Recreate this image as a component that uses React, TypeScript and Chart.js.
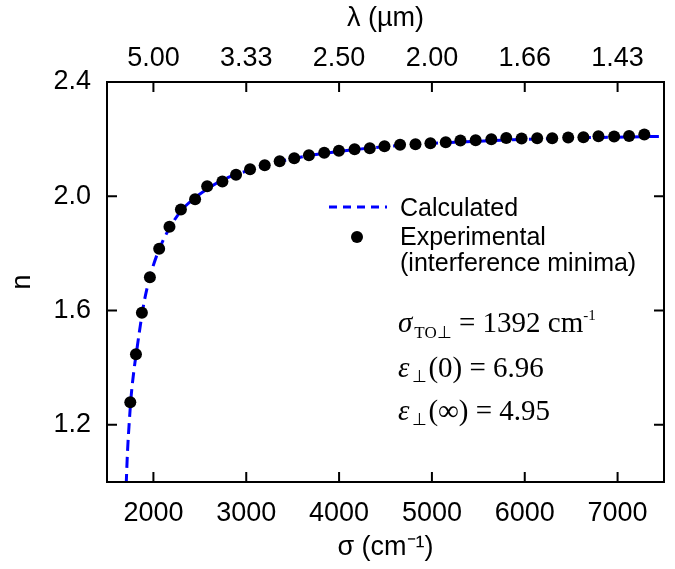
import React, { useEffect, useRef } from "react";
import { Chart, registerables } from "chart.js";

Chart.register(...registerables);

// ---- data ----
const sigmaTicks = [2000, 3000, 4000, 5000, 6000, 7000];
const lambdaLabels = ["5.00", "3.33", "2.50", "2.00", "1.66", "1.43"];
const nTicks = [1.2, 1.6, 2.0, 2.4];

const expSigma = [
  1751, 1812, 1876, 1962, 2062, 2173, 2296, 2449, 2579, 2743, 2890, 3041, 3199,
  3360, 3517, 3675, 3840, 3998, 4167, 4331, 4489, 4657, 4823, 4984, 5149, 5307,
  5471, 5640, 5801, 5966, 6134, 6296, 6468, 6632, 6794, 6963, 7124, 7288,
];
const expN = [
  1.279, 1.447, 1.592, 1.717, 1.816, 1.893, 1.954, 1.99, 2.035, 2.052, 2.075,
  2.095, 2.109, 2.123, 2.133, 2.144, 2.152, 2.159, 2.165, 2.168, 2.175, 2.18,
  2.182, 2.186, 2.189, 2.195, 2.196, 2.2, 2.204, 2.202, 2.203, 2.203, 2.206,
  2.207, 2.21, 2.209, 2.211, 2.216,
];

const calcSigma = [
  1700, 1720, 1740, 1760, 1790, 1820, 1860, 1900, 1960, 2050, 2150, 2300, 2450,
  2600, 2800, 3000, 3250, 3500, 3750, 4000, 4500, 5000, 5500, 6000, 6500, 7000,
  7500,
];
const calcN = [
  0.93, 1.1, 1.21, 1.3, 1.39, 1.46, 1.55, 1.63, 1.715, 1.805, 1.875, 1.95,
  1.995, 2.03, 2.065, 2.088, 2.113, 2.132, 2.146, 2.157, 2.174, 2.185, 2.193,
  2.199, 2.204, 2.207, 2.21,
];

const SANS = '"Liberation Sans", Arial, Helvetica, sans-serif';
const SERIF = '"Liberation Serif", "Times New Roman", Times, serif';
const BLUE = "#0000ff";

type Part = { t: string; font: string; dy?: number; gap?: number };

function drawRich(ctx: CanvasRenderingContext2D, x: number, y: number, parts: Part[]) {
  let cx = x;
  for (const p of parts) {
    ctx.font = p.font;
    ctx.fillText(p.t, cx, y + (p.dy || 0));
    cx += ctx.measureText(p.t).width + (p.gap || 0);
  }
}

const framePlugin = {
  id: "frame",
  afterDatasetsDraw(chart: any) {
    const { ctx, chartArea, scales } = chart;
    const { left, right, top, bottom } = chartArea;
    ctx.save();
    ctx.strokeStyle = "#000";
    ctx.lineWidth = 2;
    ctx.setLineDash([]);
    ctx.strokeRect(left, top, right - left, bottom - top);
    ctx.beginPath();
    sigmaTicks.forEach((v) => {
      const px = scales.x.getPixelForValue(v);
      ctx.moveTo(px, bottom);
      ctx.lineTo(px, bottom - 10);
      ctx.moveTo(px, top);
      ctx.lineTo(px, top + 10);
    });
    nTicks.forEach((v) => {
      const py = scales.y.getPixelForValue(v);
      ctx.moveTo(left, py);
      ctx.lineTo(left + 10, py);
      ctx.moveTo(right, py);
      ctx.lineTo(right - 10, py);
    });
    ctx.stroke();

    // legend
    const lx = left + 222;
    ctx.strokeStyle = BLUE;
    ctx.lineWidth = 3;
    ctx.setLineDash([8, 6]);
    ctx.beginPath();
    ctx.moveTo(lx, top + 125);
    ctx.lineTo(lx + 58, top + 125);
    ctx.stroke();
    ctx.setLineDash([]);
    ctx.fillStyle = "#000";
    ctx.beginPath();
    ctx.arc(lx + 28, top + 155, 6, 0, Math.PI * 2);
    ctx.fill();

    ctx.font = `25px ${SANS}`;
    ctx.textAlign = "left";
    ctx.textBaseline = "alphabetic";
    const tx = left + 293;
    ctx.fillText("Calculated", tx, top + 134);
    ctx.fillText("Experimental", tx, top + 163);
    ctx.fillText("(interference minima)", tx, top + 189);

    // parameters
    const ax = left + 291;
    const big = `29px ${SERIF}`;
    const bigI = `italic 29px ${SERIF}`;
    const small = `17px ${SERIF}`;
    drawRich(ctx, ax, top + 250, [
      { t: "σ", font: bigI, gap: 2 },
      { t: "TO⊥", font: small, dy: 6 },
      { t: " = 1392 cm", font: big },
      { t: "-1", font: `15px ${SERIF}`, dy: -12 },
    ]);
    drawRich(ctx, ax, top + 295, [
      { t: "ε", font: bigI, gap: 3 },
      { t: "⊥", font: small, dy: 5, gap: 1 },
      { t: "(0) = 6.96", font: big },
    ]);
    drawRich(ctx, ax, top + 338, [
      { t: "ε", font: bigI, gap: 3 },
      { t: "⊥", font: small, dy: 5, gap: 1 },
      { t: "(∞) = 4.95", font: big },
    ]);
    ctx.restore();
  },
};

export default function App() {
  const ref = useRef<HTMLCanvasElement>(null);

  useEffect(() => {
    if (!ref.current) return;
    const tickFont = { family: SANS, size: 27 };
    const chart = new Chart(ref.current, {
      type: "scatter",
      data: {
        datasets: [
          {
            label: "Experimental (interference minima)",
            data: expSigma.map((s, i) => ({ x: s, y: expN[i] })),
            showLine: false,
            pointRadius: 6,
            pointHoverRadius: 6,
            backgroundColor: "#000",
            borderWidth: 0,
          },
          {
            label: "Calculated",
            data: calcSigma.map((s, i) => ({ x: s, y: calcN[i] })),
            showLine: true,
            pointRadius: 0,
            borderColor: BLUE,
            borderWidth: 3,
            borderDash: [11, 6],
            cubicInterpolationMode: "monotone",
            fill: false,
          } as any,
        ],
      },
      options: {
        responsive: false,
        animation: false,
        layout: { padding: { left: 0, right: 11, top: 0, bottom: 0 } },
        plugins: { legend: { display: false }, tooltip: { enabled: false } },
        scales: {
          x: {
            type: "linear",
            position: "bottom",
            min: 1500,
            max: 7500,
            afterBuildTicks: (s: any) => {
              s.ticks = sigmaTicks.map((v) => ({ value: v }));
            },
            afterFit: (s: any) => {
              s.height = 87;
            },
            grid: { display: false, drawTicks: false },
            border: { display: false },
            ticks: {
              font: tickFont,
              color: "#000",
              padding: 15,
              maxRotation: 0,
              autoSkip: false,
              callback: (v: any) => String(v),
            },
            title: {
              display: true,
              text: "σ (cm⁻¹)",
              font: tickFont,
              color: "#000",
              padding: { top: 0, bottom: 5 },
            },
          },
          x2: {
            type: "linear",
            position: "top",
            min: 1500,
            max: 7500,
            afterBuildTicks: (s: any) => {
              s.ticks = sigmaTicks.map((v) => ({ value: v }));
            },
            afterFit: (s: any) => {
              s.height = 82;
            },
            grid: { display: false, drawTicks: false },
            border: { display: false },
            ticks: {
              font: tickFont,
              color: "#000",
              padding: 7,
              maxRotation: 0,
              autoSkip: false,
              callback: (v: any) => lambdaLabels[sigmaTicks.indexOf(Number(v))],
            },
            title: {
              display: true,
              text: "λ (µm)",
              font: tickFont,
              color: "#000",
              padding: { top: 2, bottom: 0 },
            },
          },
          y: {
            type: "linear",
            position: "left",
            min: 1.0,
            max: 2.4,
            afterBuildTicks: (s: any) => {
              s.ticks = nTicks.map((v) => ({ value: v }));
            },
            afterFit: (s: any) => {
              s.width = 107;
            },
            grid: { display: false, drawTicks: false },
            border: { display: false },
            ticks: {
              font: tickFont,
              color: "#000",
              padding: 16,
              callback: (v: any) => Number(v).toFixed(1),
            },
            title: {
              display: true,
              text: "n",
              font: tickFont,
              color: "#000",
              padding: { top: 6, bottom: 0 },
            },
          },
        },
      } as any,
      plugins: [framePlugin],
    });
    return () => chart.destroy();
  }, []);

  return (
    <div style={{ position: "fixed", left: 0, top: 0, width: 675, height: 569, background: "#fff" }}>
      <canvas ref={ref} width={675} height={569} style={{ display: "block" }} />
    </div>
  );
}
